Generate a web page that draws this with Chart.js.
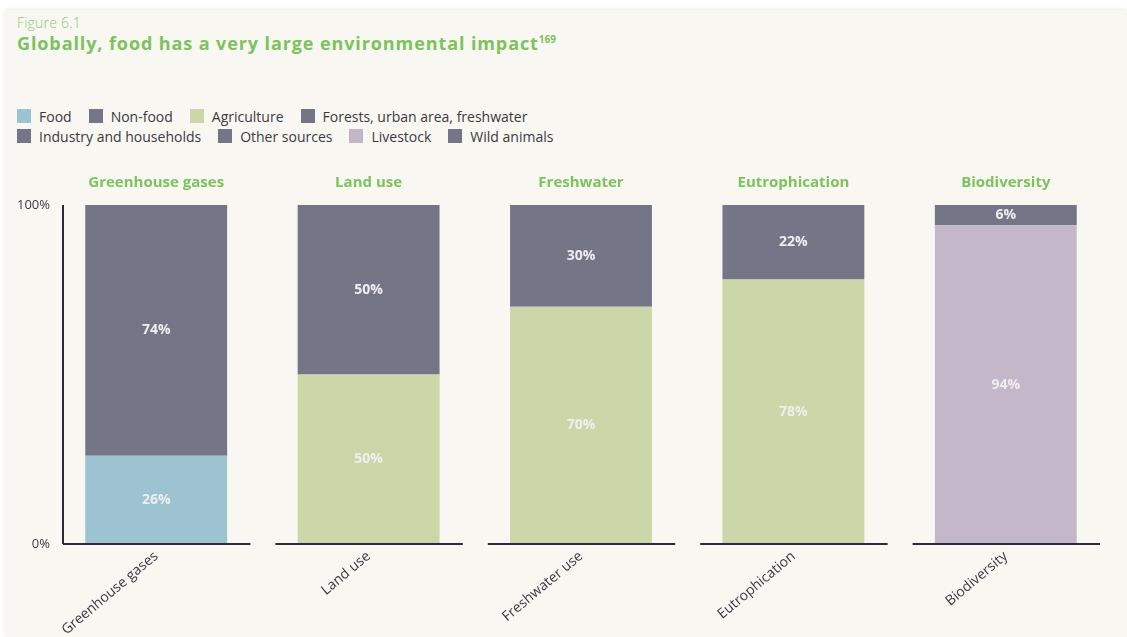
<!DOCTYPE html>
<html>
<head>
<meta charset="utf-8">
<script src="https://cdn.jsdelivr.net/npm/chart.js@4.4.1/dist/chart.umd.min.js"></script>
<style>
    html, body { margin: 0; padding: 0; background: #ffffff; }
    body { width: 1127px; height: 637px; overflow: hidden; font-family: "Open Sans", Lato, sans-serif; }
    .page { position: absolute; left: 5px; top: 10px; right: 0; bottom: 0; background: #f9f7f1; box-shadow: 0 -1px 3px rgba(0,0,0,0.08); }
    .fig { position: absolute; left: 17px; top: 13px; font-size: 14px; color: #8fca78; font-weight: 300; letter-spacing: 0.2px; }
    .title { position: absolute; left: 17px; top: 31px; font-size: 18px; font-weight: 700; color: #7cc25d; letter-spacing: 0.9px; }
    .title sup { font-size: 10px; letter-spacing: 0; }
    .legend { position: absolute; left: 17px; top: 106px; font-size: 14px; color: #3a3a44; }
    .legend .row { display: flex; height: 20px; align-items: center; }
    .legend .item { display: flex; align-items: center; margin-right: 17px; }
    .legend .box { width: 14px; height: 14px; margin-right: 8px; }
    .chart-wrap { position: absolute; left: 0; top: 160px; width: 1127px; height: 477px; }
</style>
</head>
<body>
<div class="page"></div>
<div class="fig">Figure 6.1</div>
<div class="title">Globally, food has a very large environmental impact<sup>169</sup></div>
<div class="legend" id="legend"></div>
<div class="chart-wrap"><canvas id="impactChart" width="1127" height="477"></canvas></div>

<script>
    // category labels
    const bottomLabels = ['Greenhouse gases', 'Land use', 'Freshwater use', 'Eutrophication', 'Biodiversity'];
    const topTitles = ['Greenhouse gases', 'Land use', 'Freshwater', 'Eutrophication', 'Biodiversity'];
    const yTicks = [0, 100];

    // series values (% share per category)
    const food        = [26, null, null, null, null];
    const nonFood     = [74, null, null, null, null];
    const agriculture = [null, 50, 70, 78, null];
    const forests     = [null, 50, null, null, null];
    const industry    = [null, null, 30, null, null];
    const otherSrc    = [null, null, null, 22, null];
    const livestock   = [null, null, null, null, 94];
    const wildAnimals = [null, null, null, null, 6];

    const DARK = '#757588';
    const series = [
        { label: 'Food', data: food, color: '#9dc2d1' },
        { label: 'Non-food', data: nonFood, color: DARK },
        { label: 'Agriculture', data: agriculture, color: '#ccd6a8' },
        { label: 'Forests, urban area, freshwater', data: forests, color: DARK },
        { label: 'Industry and households', data: industry, color: DARK },
        { label: 'Other sources', data: otherSrc, color: DARK },
        { label: 'Livestock', data: livestock, color: '#c3b7c9' },
        { label: 'Wild animals', data: wildAnimals, color: DARK }
    ];

    // html legend, two rows like the figure
    function buildLegend() {
        const el = document.getElementById('legend');
        const rows = [series.slice(0, 4), series.slice(4)];
        rows.forEach(r => {
            let html = '<div class="row">';
            r.forEach(s => {
                html += `<div class="item"><span class="box" style="background:${s.color}"></span>${s.label}</div>`;
            });
            el.innerHTML += html + '</div>';
        });
    }

    // values written inside the segments
    const segmentLabels = {
        id: 'segmentLabels',
        afterDatasetsDraw(chart) {
            const ctx = chart.ctx;
            ctx.save();
            ctx.font = 'bold 14px "Open Sans", sans-serif';
            ctx.fillStyle = '#efefef';
            ctx.textAlign = 'center';
            ctx.textBaseline = 'middle';
            chart.data.datasets.forEach((ds, i) => {
                chart.getDatasetMeta(i).data.forEach((bar, j) => {
                    const v = ds.data[j];
                    if (v == null) return;
                    ctx.fillText(v + '%', bar.x, (bar.y + bar.base) / 2);
                });
            });
            ctx.restore();
        }
    };

    // hand-drawn style axis: vertical line + baseline piece under each column
    const axisLines = {
        id: 'axisLines',
        afterDatasetsDraw(chart) {
            const { ctx, chartArea, scales } = chart;
            const x = scales.x;
            const step = (x.right - x.left) / bottomLabels.length;
            ctx.save();
            ctx.strokeStyle = '#2b2b3a';
            ctx.lineWidth = 2;
            ctx.beginPath();
            ctx.moveTo(chartArea.left + 13, chartArea.top);
            ctx.lineTo(chartArea.left + 13, chartArea.bottom);
            ctx.stroke();
            bottomLabels.forEach((_, i) => {
                const l = x.left + i * step;
                ctx.beginPath();
                ctx.moveTo(l + 13, chartArea.bottom);
                ctx.lineTo(l + step - 12, chartArea.bottom);
                ctx.stroke();
            });
            ctx.restore();
        }
    };

    function initChart() {
        const ctx = document.getElementById('impactChart').getContext('2d');
        new Chart(ctx, {
            type: 'bar',
            data: {
                labels: bottomLabels,
                datasets: series.map(s => ({
                    label: s.label, data: s.data, backgroundColor: s.color,
                    barPercentage: 0.668, categoryPercentage: 1, borderWidth: 0
                }))
            },
            options: {
                responsive: false,
                animation: false,
                layout: { padding: { left: 0, right: 15, top: 0, bottom: 0 } },
                plugins: { legend: { display: false }, tooltip: { enabled: false } },
                scales: {
                    x: {
                        stacked: true,
                        grid: { display: false, drawTicks: false },
                        border: { display: false },
                        ticks: { color: '#3a3a44', font: { size: 14, family: '"Open Sans"' }, minRotation: 40, maxRotation: 40, padding: 4 },
                        afterFit: s => { s.height = 93; }
                    },
                    xTop: {
                        type: 'category',
                        position: 'top',
                        labels: topTitles,
                        offset: true,
                        grid: { display: false, drawTicks: false },
                        border: { display: false },
                        ticks: { color: '#7cc25d', font: { size: 15, weight: 'bold', family: '"Open Sans"' }, padding: 13 },
                        afterFit: s => { s.height = 45; }
                    },
                    y: {
                        stacked: true,
                        min: 0, max: 100,
                        afterBuildTicks: s => { s.ticks = yTicks.map(v => ({ value: v })); },
                        grid: { display: false, drawTicks: false },
                        border: { display: false },
                        ticks: { color: '#3a3a44', font: { size: 13, family: '"Open Sans"' }, padding: 0, callback: v => v + '%' },
                        afterFit: s => { s.width = 50; }
                    }
                }
            },
            plugins: [segmentLabels, axisLines]
        });
    }

    document.addEventListener('DOMContentLoaded', () => {
        buildLegend();
        initChart();
    });
</script>
</body>
</html>
